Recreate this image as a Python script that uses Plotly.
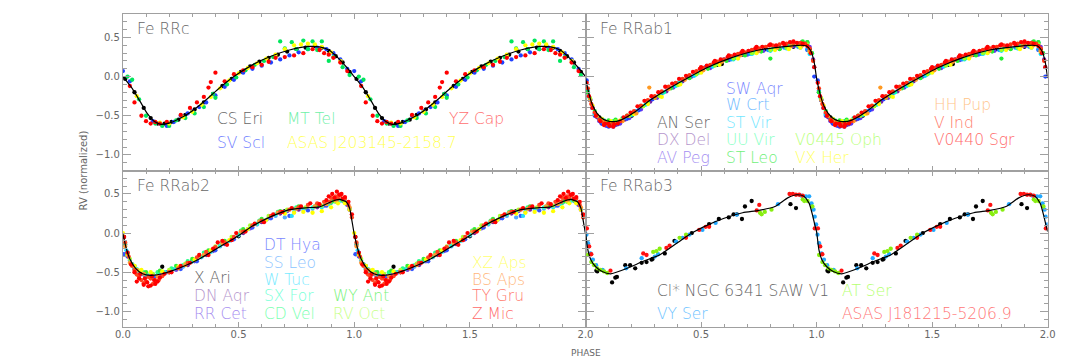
import plotly.graph_objects as go

W, H = 1090, 363
FONT = "DejaVu Sans"
AXIS_GRAY = "#a0a0a0"
TEXT_GRAY = "#666666"

# ---------------- template curves (one cycle, phase 0..1) ----------------
RRC_TPL_PH = [0.0, 0.04, 0.075, 0.105, 0.135, 0.165, 0.21, 0.25, 0.29, 0.33, 0.37,
              0.42, 0.48, 0.56, 0.64, 0.72, 0.80, 0.85, 0.89, 0.93, 0.97, 1.0]
RRC_TPL_RV = [0.0, -0.15, -0.32, -0.47, -0.57, -0.61, -0.585, -0.53, -0.46, -0.37, -0.27,
              -0.14, 0.0, 0.15, 0.26, 0.34, 0.385, 0.38, 0.34, 0.24, 0.11, 0.0]

RRAB1_TPL_PH = [0.0, 0.015, 0.03, 0.05, 0.08, 0.11, 0.15, 0.21, 0.28, 0.35, 0.44,
                0.53, 0.63, 0.75, 0.85, 0.92, 0.955, 0.975, 0.99, 1.0]
RRAB1_TPL_RV = [-0.02, -0.22, -0.36, -0.47, -0.55, -0.575, -0.56, -0.46, -0.30, -0.17, -0.02,
                0.12, 0.24, 0.34, 0.38, 0.40, 0.395, 0.33, 0.18, -0.02]

RRAB2_TPL_PH = [0.0, 0.015, 0.03, 0.055, 0.085, 0.12, 0.17, 0.25, 0.33, 0.41, 0.49,
                0.56, 0.64, 0.72, 0.80, 0.85, 0.90, 0.935, 0.965, 0.98, 0.99, 1.0]
RRAB2_TPL_RV = [-0.01, -0.20, -0.33, -0.45, -0.52, -0.54, -0.52, -0.44, -0.33, -0.19, -0.05,
                0.09, 0.21, 0.30, 0.325, 0.335, 0.40, 0.43, 0.40, 0.32, 0.16, -0.01]

RRAB3_TPL_PH = [0.0, 0.01, 0.023, 0.044, 0.072, 0.108, 0.18, 0.25, 0.32, 0.39, 0.46, 0.53,
                0.60, 0.68, 0.75, 0.82, 0.875, 0.915, 0.945, 0.968, 0.982, 0.992, 1.0]
RRAB3_TPL_RV = [0.02, -0.21, -0.34, -0.43, -0.49, -0.52, -0.45, -0.36, -0.28, -0.14, 0.0, 0.105,
                0.19, 0.26, 0.29, 0.34, 0.45, 0.49, 0.47, 0.38, 0.235, 0.11, 0.02]

# ---------------- Fe RRc stars ----------------
CS_ERI_PH = [0.01, 0.05, 0.09, 0.12, 0.15, 0.18, 0.21, 0.24, 0.27, 0.31, 0.35, 0.39, 0.43, 0.47,
             0.51, 0.55, 0.59, 0.63, 0.67, 0.71, 0.75, 0.79, 0.83, 0.86, 0.89, 0.92, 0.95, 0.98]
CS_ERI_RV = [-0.03, -0.20, -0.40, -0.53, -0.60, -0.60, -0.58, -0.55, -0.49, -0.42, -0.33, -0.22, -0.12, -0.03,
             0.06, 0.13, 0.19, 0.24, 0.28, 0.32, 0.35, 0.37, 0.39, 0.37, 0.33, 0.26, 0.18, 0.06]

SV_SCL_PH = [0.0, 0.03, 0.13, 0.16, 0.19, 0.22, 0.25, 0.28, 0.30, 0.33, 0.36, 0.40, 0.44, 0.48,
             0.52, 0.56, 0.60, 0.64, 0.68, 0.72, 0.76, 0.80, 0.84, 0.88, 0.91, 0.94, 0.97]
SV_SCL_RV = [0.07, -0.06, -0.57, -0.60, -0.63, -0.58, -0.50, -0.47, -0.44, -0.39, -0.33, -0.24, -0.13, -0.04,
             0.05, 0.10, 0.14, 0.18, 0.22, 0.27, 0.31, 0.35, 0.37, 0.35, 0.30, 0.22, 0.10]

MT_TEL_PH = [0.02, 0.04, 0.07, 0.10, 0.14, 0.17, 0.20, 0.23, 0.27, 0.31, 0.35, 0.39, 0.40, 0.45, 0.49, 0.53,
             0.57, 0.61, 0.65, 0.68, 0.70, 0.73, 0.75, 0.78, 0.80, 0.82, 0.84, 0.86, 0.89, 0.91, 0.95, 0.98]
MT_TEL_RV = [0.0, -0.04, -0.29, -0.50, -0.60, -0.63, -0.63, -0.56, -0.53, -0.47, -0.39, -0.22, -0.27, -0.10, -0.01, 0.08,
             0.15, 0.20, 0.25, 0.45, 0.36, 0.44, 0.35, 0.46, 0.35, 0.45, 0.34, 0.45, 0.20, 0.25, 0.12, 0.02]

ASAS_J2031_PH = [0.06, 0.16, 0.20, 0.26, 0.30, 0.34, 0.38, 0.42, 0.46, 0.50, 0.54,
                 0.58, 0.62, 0.66, 0.70, 0.74, 0.77, 0.80, 0.83, 0.86, 0.90, 0.94]
ASAS_J2031_RV = [-0.25, -0.59, -0.60, -0.52, -0.45, -0.36, -0.26, -0.15, -0.05, 0.04, 0.11,
                 0.17, 0.23, 0.28, 0.35, 0.40, 0.41, 0.42, 0.41, 0.38, 0.31, 0.20]

YZ_CAP_PH = [0.03, 0.05, 0.08, 0.10, 0.12, 0.14, 0.16, 0.19, 0.25, 0.29, 0.32, 0.35, 0.37, 0.38, 0.40, 0.44,
             0.48, 0.52, 0.56, 0.60, 0.63, 0.66, 0.70, 0.74, 0.78, 0.82, 0.85, 0.87, 0.89, 0.91, 0.94, 0.97]
YZ_CAP_RV = [-0.12, -0.33, -0.50, -0.57, -0.60, -0.58, -0.60, -0.58, -0.49, -0.40, -0.33, -0.26, -0.14, -0.07, 0.05, -0.06,
             0.03, 0.08, 0.12, 0.15, 0.19, 0.24, 0.25, 0.27, 0.30, 0.35, 0.34, 0.30, 0.28, 0.24, 0.18, 0.07]

# ---------------- Fe RRab1 stars ----------------
AN_SER_PH = [0.02, 0.06, 0.12, 0.20, 0.30, 0.40, 0.50, 0.57, 0.59, 0.68, 0.78, 0.90, 0.97]
AN_SER_RV = [-0.30, -0.52, -0.58, -0.50, -0.27, -0.09, 0.07, 0.15, 0.16, 0.28, 0.35, 0.38, 0.35]

DX_DEL_PH = [0.01, 0.03, 0.05, 0.07, 0.10, 0.13, 0.17, 0.22, 0.28, 0.35,
             0.42, 0.50, 0.58, 0.66, 0.74, 0.82, 0.88, 0.93, 0.96, 0.985]
DX_DEL_RV = [-0.20, -0.40, -0.52, -0.60, -0.63, -0.62, -0.55, -0.45, -0.32, -0.19,
             -0.06, 0.06, 0.17, 0.26, 0.32, 0.37, 0.40, 0.43, 0.42, 0.22]

AV_PEG_PH = [0.02, 0.04, 0.06, 0.09, 0.12, 0.15, 0.19, 0.24, 0.31, 0.38,
             0.46, 0.54, 0.62, 0.70, 0.77, 0.84, 0.90, 0.94, 0.97]
AV_PEG_RV = [-0.30, -0.47, -0.57, -0.63, -0.64, -0.60, -0.53, -0.42, -0.27, -0.14,
             0.0, 0.11, 0.21, 0.28, 0.33, 0.36, 0.39, 0.43, 0.38]

SW_AQR_PH = [0.005, 0.02, 0.04, 0.07, 0.10, 0.14, 0.18, 0.23, 0.29, 0.36,
             0.44, 0.52, 0.60, 0.68, 0.75, 0.83, 0.89, 0.93, 0.96, 0.99]
SW_AQR_RV = [-0.05, -0.30, -0.50, -0.60, -0.64, -0.61, -0.54, -0.43, -0.29, -0.15,
             -0.01, 0.12, 0.22, 0.29, 0.35, 0.39, 0.42, 0.43, 0.34, 0.0]

W_CRT_PH = [0.01, 0.03, 0.06, 0.09, 0.13, 0.17, 0.22, 0.27, 0.33, 0.40,
            0.48, 0.55, 0.63, 0.71, 0.79, 0.86, 0.92, 0.96, 0.99]
W_CRT_RV = [-0.18, -0.40, -0.55, -0.60, -0.59, -0.53, -0.44, -0.34, -0.22, -0.09,
            0.03, 0.13, 0.22, 0.29, 0.34, 0.37, 0.38, 0.35, 0.12]

ST_VIR_PH = [0.015, 0.04, 0.08, 0.11, 0.14, 0.20, 0.26, 0.32, 0.39,
             0.47, 0.55, 0.64, 0.72, 0.80, 0.87, 0.93, 0.97]
ST_VIR_RV = [-0.26, -0.48, -0.60, -0.60, -0.58, -0.49, -0.36, -0.24, -0.12,
             0.01, 0.13, 0.22, 0.29, 0.33, 0.36, 0.37, 0.29]

UU_VIR_PH = [0.02, 0.05, 0.08, 0.12, 0.16, 0.21, 0.27, 0.34, 0.41,
             0.49, 0.57, 0.65, 0.73, 0.81, 0.88, 0.93, 0.96, 0.98]
UU_VIR_RV = [-0.29, -0.50, -0.56, -0.57, -0.53, -0.46, -0.33, -0.20, -0.08,
             0.05, 0.16, 0.24, 0.31, 0.35, 0.40, 0.43, 0.44, 0.30]

ST_LEO_PH = [0.01, 0.04, 0.07, 0.10, 0.13, 0.18, 0.24, 0.30, 0.37, 0.45,
             0.53, 0.61, 0.69, 0.76, 0.80, 0.84, 0.90, 0.94, 0.96, 0.98]
ST_LEO_RV = [-0.20, -0.44, -0.54, -0.56, -0.55, -0.50, -0.38, -0.27, -0.15, -0.02,
             0.10, 0.20, 0.27, 0.32, 0.23, 0.35, 0.42, 0.45, 0.44, 0.30]

V0445_OPH_PH = [0.02, 0.05, 0.09, 0.13, 0.19, 0.25, 0.32, 0.40,
                0.48, 0.56, 0.64, 0.72, 0.80, 0.87, 0.92, 0.96]
V0445_OPH_RV = [-0.28, -0.50, -0.58, -0.57, -0.50, -0.38, -0.25, -0.11,
                0.03, 0.14, 0.23, 0.30, 0.34, 0.37, 0.40, 0.41]

VX_HER_PH = [0.03, 0.07, 0.11, 0.15, 0.21, 0.27, 0.33, 0.41,
             0.50, 0.58, 0.66, 0.74, 0.82, 0.88, 0.93, 0.97]
VX_HER_RV = [-0.37, -0.54, -0.57, -0.56, -0.48, -0.35, -0.26, -0.10,
             0.05, 0.15, 0.23, 0.30, 0.34, 0.35, 0.37, 0.32]

HH_PUP_PH = [0.02, 0.05, 0.08, 0.12, 0.16, 0.22, 0.276, 0.30, 0.36,
             0.43, 0.51, 0.59, 0.67, 0.75, 0.83, 0.89, 0.94, 0.97]
HH_PUP_RV = [-0.30, -0.50, -0.57, -0.60, -0.57, -0.47, -0.14, -0.27, -0.16,
             -0.04, 0.08, 0.19, 0.27, 0.33, 0.37, 0.39, 0.40, 0.33]

V_IND_PH = [0.01, 0.025, 0.04, 0.06, 0.08, 0.10, 0.12, 0.15, 0.18, 0.21, 0.24, 0.27, 0.30,
            0.33, 0.36, 0.39, 0.42, 0.45, 0.48, 0.51, 0.54, 0.57, 0.60, 0.63, 0.66, 0.69,
            0.72, 0.75, 0.78, 0.81, 0.84, 0.87, 0.90, 0.93, 0.95, 0.97, 0.985]
V_IND_RV = [-0.15, -0.35, -0.46, -0.55, -0.60, -0.62, -0.60, -0.57, -0.50, -0.44, -0.37, -0.30, -0.25,
            -0.19, -0.13, -0.08, -0.03, 0.02, 0.07, 0.11, 0.15, 0.19, 0.22, 0.26, 0.29, 0.31,
            0.34, 0.36, 0.38, 0.40, 0.41, 0.42, 0.43, 0.43, 0.42, 0.36, 0.20]

V0440_SGR_PH = [0.005, 0.015, 0.03, 0.045, 0.065, 0.085, 0.105, 0.125, 0.14, 0.165, 0.195, 0.225, 0.255,
                0.285, 0.315, 0.345, 0.375, 0.405, 0.435, 0.465, 0.495, 0.525, 0.555, 0.585, 0.615, 0.645,
                0.675, 0.705, 0.735, 0.765, 0.795, 0.825, 0.855, 0.885, 0.915, 0.94, 0.96, 0.975, 0.99,
                0.08, 0.10, 0.12, 0.50, 0.56, 0.62, 0.68, 0.74, 0.80, 0.86, 0.90]
V0440_SGR_RV = [-0.08, -0.25, -0.40, -0.50, -0.57, -0.60, -0.63, -0.61, -0.60, -0.52, -0.46, -0.38, -0.31,
                -0.25, -0.20, -0.13, -0.09, -0.03, 0.01, 0.06, 0.10, 0.14, 0.18, 0.22, 0.25, 0.28,
                0.31, 0.33, 0.36, 0.38, 0.40, 0.40, 0.43, 0.44, 0.43, 0.42, 0.39, 0.30, 0.12,
                -0.62, -0.60, -0.64, 0.12, 0.20, 0.27, 0.33, 0.38, 0.41, 0.41, 0.45]

# ---------------- Fe RRab2 stars ----------------
X_ARI_PH = [0.005, 0.17, 0.30, 0.50, 0.70, 0.90]
X_ARI_RV = [-0.05, -0.43, -0.36, -0.04, 0.28, 0.39]

DN_AQR_PH = [0.01, 0.04, 0.08, 0.13, 0.20, 0.28, 0.36, 0.44, 0.52, 0.60, 0.68, 0.76, 0.84, 0.91, 0.95, 0.98]
DN_AQR_RV = [-0.15, -0.40, -0.52, -0.55, -0.50, -0.41, -0.28, -0.14, 0.0, 0.14, 0.25, 0.30, 0.33, 0.41, 0.42, 0.30]

RR_CET_PH = [0.02, 0.06, 0.10, 0.16, 0.23, 0.31, 0.39, 0.47, 0.55, 0.63, 0.71, 0.79, 0.87, 0.93, 0.97]
RR_CET_RV = [-0.25, -0.48, -0.55, -0.54, -0.47, -0.36, -0.23, -0.09, 0.06, 0.19, 0.28, 0.32, 0.35, 0.42, 0.37]

DT_HYA_PH = [0.005, 0.02, 0.05, 0.09, 0.14, 0.19, 0.25, 0.32, 0.40, 0.48, 0.56, 0.64, 0.72, 0.80, 0.88, 0.94, 0.97]
DT_HYA_RV = [-0.27, -0.30, -0.46, -0.53, -0.55, -0.50, -0.46, -0.36, -0.22, -0.08, 0.07, 0.19, 0.22, 0.29, 0.35, 0.42, 0.36]

SS_LEO_PH = [0.03, 0.07, 0.11, 0.18, 0.26, 0.34, 0.42, 0.50, 0.58, 0.66, 0.70, 0.74, 0.82, 0.90, 0.95]
SS_LEO_RV = [-0.35, -0.50, -0.54, -0.50, -0.43, -0.31, -0.17, -0.03, 0.11, 0.22, 0.20, 0.27, 0.31, 0.39, 0.41]

W_TUC_PH = [0.015, 0.05, 0.10, 0.15, 0.22, 0.30, 0.38, 0.46, 0.54, 0.62, 0.70, 0.73, 0.78, 0.86, 0.92, 0.96]
W_TUC_RV = [-0.22, -0.45, -0.54, -0.53, -0.46, -0.36, -0.24, -0.10, 0.05, 0.17, 0.27, 0.22, 0.30, 0.33, 0.40, 0.40]

SX_FOR_PH = [0.02, 0.06, 0.12, 0.18, 0.26, 0.34, 0.42, 0.50, 0.58, 0.66, 0.74, 0.82, 0.89, 0.94, 0.97]
SX_FOR_RV = [-0.26, -0.46, -0.52, -0.50, -0.41, -0.30, -0.16, -0.02, 0.12, 0.24, 0.31, 0.33, 0.37, 0.42, 0.38]

CD_VEL_PH = [0.01, 0.04, 0.09, 0.15, 0.21, 0.28, 0.35, 0.43, 0.51, 0.59, 0.67, 0.75, 0.83, 0.90, 0.95, 0.98]
CD_VEL_RV = [-0.14, -0.40, -0.50, -0.50, -0.45, -0.36, -0.25, -0.12, 0.03, 0.16, 0.27, 0.33, 0.34, 0.39, 0.42, 0.31]

WY_ANT_PH = [0.02, 0.05, 0.10, 0.16, 0.23, 0.30, 0.37, 0.44, 0.52, 0.60, 0.68, 0.76, 0.84, 0.91, 0.95]
WY_ANT_RV = [-0.27, -0.42, -0.50, -0.48, -0.42, -0.33, -0.22, -0.10, 0.05, 0.18, 0.28, 0.34, 0.36, 0.41, 0.42]

RV_OCT_PH = [0.03, 0.07, 0.13, 0.20, 0.27, 0.33, 0.40, 0.47, 0.55, 0.63, 0.71, 0.79, 0.86, 0.92, 0.96]
RV_OCT_RV = [-0.33, -0.48, -0.52, -0.47, -0.39, -0.29, -0.17, -0.05, 0.10, 0.22, 0.30, 0.33, 0.35, 0.40, 0.39]

XZ_APS_PH = [0.0, 0.02, 0.05, 0.08, 0.12, 0.17, 0.24, 0.31, 0.38, 0.46, 0.54,
             0.62, 0.70, 0.74, 0.78, 0.82, 0.86, 0.90, 0.93, 0.96, 0.98]
XZ_APS_RV = [0.0, -0.28, -0.42, -0.47, -0.50, -0.49, -0.43, -0.34, -0.22, -0.09, 0.05,
             0.17, 0.25, 0.26, 0.27, 0.26, 0.28, 0.33, 0.38, 0.38, 0.30]

BS_APS_PH = [0.01, 0.03, 0.06, 0.09, 0.12, 0.15, 0.20, 0.27, 0.35, 0.43,
             0.51, 0.59, 0.67, 0.75, 0.83, 0.88, 0.92, 0.95, 0.98]
BS_APS_RV = [-0.17, -0.38, -0.47, -0.52, -0.56, -0.55, -0.50, -0.41, -0.28, -0.13,
             0.02, 0.15, 0.26, 0.31, 0.34, 0.37, 0.42, 0.43, 0.33]

TY_GRU_PH = [0.01, 0.025, 0.04, 0.06, 0.08, 0.10, 0.12, 0.14, 0.17, 0.20, 0.24, 0.28, 0.32, 0.36, 0.40, 0.44, 0.48,
             0.52, 0.56, 0.60, 0.64, 0.68, 0.72, 0.76, 0.80, 0.84, 0.87, 0.90, 0.92, 0.94, 0.96, 0.975, 0.99,
             0.05, 0.07, 0.09, 0.11, 0.13, 0.155, 0.895, 0.93]
TY_GRU_RV = [-0.12, -0.30, -0.42, -0.53, -0.60, -0.62, -0.58, -0.60, -0.55, -0.50, -0.45, -0.38, -0.31, -0.24, -0.18, -0.12, -0.05,
             0.02, 0.10, 0.16, 0.22, 0.27, 0.30, 0.33, 0.36, 0.38, 0.40, 0.45, 0.47, 0.48, 0.44, 0.36, 0.20,
             -0.47, -0.55, -0.64, -0.56, -0.65, -0.60, 0.40, 0.44]

Z_MIC_PH = [0.005, 0.02, 0.035, 0.05, 0.07, 0.09, 0.105, 0.12, 0.135, 0.15, 0.18, 0.21, 0.25, 0.29, 0.33, 0.37, 0.41, 0.45,
            0.49, 0.53, 0.57, 0.61, 0.65, 0.69, 0.73, 0.77, 0.81, 0.85, 0.88, 0.905, 0.925, 0.945, 0.96, 0.975, 0.99,
            0.06, 0.075, 0.095, 0.11, 0.125, 0.14, 0.16, 0.39, 0.43, 0.47, 0.89, 0.915, 0.935, 0.95]
Z_MIC_RV = [-0.05, -0.25, -0.40, -0.50, -0.58, -0.66, -0.63, -0.67, -0.60, -0.62, -0.52, -0.50, -0.42, -0.38, -0.28, -0.28, -0.12, -0.15,
            0.0, 0.02, 0.12, 0.14, 0.24, 0.27, 0.32, 0.34, 0.38, 0.37, 0.42, 0.50, 0.53, 0.50, 0.46, 0.40, 0.24,
            -0.62, -0.52, -0.58, -0.68, -0.55, -0.65, -0.57, -0.20, -0.10, -0.09, 0.47, 0.45, 0.49, 0.44]

# ---------------- Fe RRab3 stars ----------------
SAW_V1_PH = [0.047, 0.051, 0.115, 0.129, 0.136, 0.172, 0.193, 0.215, 0.243, 0.264, 0.286, 0.29, 0.343,
             0.385, 0.46, 0.535, 0.577, 0.62, 0.641, 0.655, 0.677, 0.69, 0.719, 0.887, 0.911]
SAW_V1_RV = [-0.48, -0.49, -0.63, -0.57, -0.56, -0.41, -0.41, -0.45, -0.38, -0.37, -0.34, -0.33, -0.26,
             -0.10, 0.0, 0.115, 0.18, 0.20, 0.24, 0.24, 0.18, 0.34, 0.41, 0.37, 0.32]

VY_SER_PH = [0.004, 0.011, 0.021, 0.032, 0.046, 0.074, 0.176, 0.243, 0.30, 0.314, 0.392, 0.42,
             0.449, 0.506, 0.563, 0.655, 0.833, 0.933, 0.954, 0.968, 0.978, 0.987, 0.992, 0.998]
VY_SER_RV = [-0.02, -0.13, -0.26, -0.34, -0.41, -0.47, -0.45, -0.32, -0.30, -0.27, -0.11, -0.06,
             -0.02, 0.04, 0.13, 0.235, 0.37, 0.48, 0.47, 0.47, 0.38, 0.30, 0.21, 0.11]

AT_SER_PH = [0.011, 0.025, 0.037, 0.051, 0.065, 0.08, 0.094, 0.293, 0.307, 0.321,
             0.407, 0.435, 0.755, 0.762, 0.776, 0.805, 0.94, 0.947, 0.961, 0.982]
AT_SER_RV = [-0.28, -0.37, -0.41, -0.45, -0.47, -0.49, -0.51, -0.24, -0.23, -0.20,
             -0.06, -0.02, 0.26, 0.24, 0.27, 0.30, 0.43, 0.41, 0.41, 0.34]

ASAS_J1812_PH = [0.006, 0.016, 0.025, 0.108, 0.25, 0.264, 0.35, 0.364, 0.435, 0.492,
                 0.52, 0.535, 0.741, 0.752, 0.883, 0.897, 0.911, 0.925, 0.94, 0.992]
ASAS_J1812_RV = [0.06, -0.17, -0.27, -0.48, -0.26, -0.28, -0.19, -0.16, -0.06, 0.04,
                 0.08, 0.08, 0.29, 0.36, 0.50, 0.50, 0.49, 0.49, 0.48, 0.06]

# ---------------- panel contents ----------------
RRC_STARS = [("CS Eri", CS_ERI_PH, CS_ERI_RV), ("SV Scl", SV_SCL_PH, SV_SCL_RV),
             ("MT Tel", MT_TEL_PH, MT_TEL_RV), ("ASAS J203145-2158.7", ASAS_J2031_PH, ASAS_J2031_RV),
             ("YZ Cap", YZ_CAP_PH, YZ_CAP_RV)]
RRAB1_STARS = [("AN Ser", AN_SER_PH, AN_SER_RV), ("DX Del", DX_DEL_PH, DX_DEL_RV),
               ("AV Peg", AV_PEG_PH, AV_PEG_RV), ("SW Aqr", SW_AQR_PH, SW_AQR_RV),
               ("W Crt", W_CRT_PH, W_CRT_RV), ("ST Vir", ST_VIR_PH, ST_VIR_RV),
               ("UU Vir", UU_VIR_PH, UU_VIR_RV), ("ST Leo", ST_LEO_PH, ST_LEO_RV),
               ("V0445 Oph", V0445_OPH_PH, V0445_OPH_RV), ("VX Her", VX_HER_PH, VX_HER_RV),
               ("HH Pup", HH_PUP_PH, HH_PUP_RV), ("V Ind", V_IND_PH, V_IND_RV),
               ("V0440 Sgr", V0440_SGR_PH, V0440_SGR_RV)]
RRAB2_STARS = [("X Ari", X_ARI_PH, X_ARI_RV), ("DN Aqr", DN_AQR_PH, DN_AQR_RV),
               ("RR Cet", RR_CET_PH, RR_CET_RV), ("DT Hya", DT_HYA_PH, DT_HYA_RV),
               ("SS Leo", SS_LEO_PH, SS_LEO_RV), ("W Tuc", W_TUC_PH, W_TUC_RV),
               ("SX For", SX_FOR_PH, SX_FOR_RV), ("CD Vel", CD_VEL_PH, CD_VEL_RV),
               ("WY Ant", WY_ANT_PH, WY_ANT_RV), ("RV Oct", RV_OCT_PH, RV_OCT_RV),
               ("XZ Aps", XZ_APS_PH, XZ_APS_RV), ("BS Aps", BS_APS_PH, BS_APS_RV),
               ("TY Gru", TY_GRU_PH, TY_GRU_RV), ("Z Mic", Z_MIC_PH, Z_MIC_RV)]
RRAB3_STARS = [("Cl* NGC 6341 SAW V1", SAW_V1_PH, SAW_V1_RV), ("VY Ser", VY_SER_PH, VY_SER_RV),
               ("AT Ser", AT_SER_PH, AT_SER_RV), ("ASAS J181215-5206.9", ASAS_J1812_PH, ASAS_J1812_RV)]

# style: dot colour, label colour, label position (phase, rv)
STAR_STYLE = {
    "CS Eri": ("#000000", "#666666", 0.40, -0.54),
    "SV Scl": ("#2040ff", "#7080ff", 0.40, -0.85),
    "MT Tel": ("#00e65c", "#70f0a8", 0.70, -0.54),
    "ASAS J203145-2158.7": ("#ffff00", "#ffff55", 0.70, -0.85),
    "YZ Cap": ("#ff0000", "#ff7070", 1.40, -0.54),

    "AN Ser": ("#000000", "#666666", 0.30, -0.593),
    "DX Del": ("#7a1fa2", "#b494cc", 0.30, -0.815),
    "AV Peg": ("#6633ee", "#a48ef2", 0.30, -1.041),
    "SW Aqr": ("#2244ff", "#7a88ff", 0.60, -0.155),
    "W Crt": ("#1199ff", "#70baff", 0.60, -0.367),
    "ST Vir": ("#00e5ff", "#70e6ff", 0.60, -0.593),
    "UU Vir": ("#00ffaa", "#88ffc4", 0.60, -0.815),
    "ST Leo": ("#22ee33", "#70f07a", 0.60, -1.041),
    "V0445 Oph": ("#99ff22", "#b8ff78", 0.90, -0.815),
    "VX Her": ("#ffff00", "#ffff66", 0.90, -1.041),
    "HH Pup": ("#ff9922", "#ffc488", 1.50, -0.367),
    "V Ind": ("#ff3311", "#ff7a6a", 1.50, -0.593),
    "V0440 Sgr": ("#ff0000", "#ff6b6b", 1.50, -0.815),

    "X Ari": ("#000000", "#666666", 0.30, -0.574),
    "DN Aqr": ("#7a1fa2", "#b494cc", 0.30, -0.808),
    "RR Cet": ("#7744dd", "#a68cf0", 0.30, -1.035),
    "DT Hya": ("#3355ff", "#7a88ff", 0.60, -0.156),
    "SS Leo": ("#55aaff", "#8cc4ff", 0.60, -0.382),
    "W Tuc": ("#22ddff", "#7aeaff", 0.60, -0.596),
    "SX For": ("#22ffcc", "#7affd8", 0.60, -0.808),
    "CD Vel": ("#22ff88", "#7affb0", 0.60, -1.035),
    "WY Ant": ("#33ee33", "#7af27a", 0.90, -0.808),
    "RV Oct": ("#aaff33", "#c8ff88", 0.90, -1.035),
    "XZ Aps": ("#ffff00", "#ffff70", 1.50, -0.382),
    "BS Aps": ("#ff9933", "#ffb67a", 1.50, -0.596),
    "TY Gru": ("#ff4422", "#ff7a6e", 1.50, -0.808),
    "Z Mic": ("#ff0000", "#ff6b6b", 1.50, -1.035),

    "Cl* NGC 6341 SAW V1": ("#000000", "#666666", 0.30, -0.744),
    "VY Ser": ("#22a8ff", "#70c4ff", 0.30, -1.035),
    "AT Ser": ("#88ee11", "#b6ff70", 1.10, -0.744),
    "ASAS J181215-5206.9": ("#ff1111", "#ff7777", 1.10, -1.035),
}

PANELS = [
    ("x", "y", "Fe RRc", RRC_TPL_PH, RRC_TPL_RV, RRC_STARS),
    ("x2", "y2", "Fe RRab1", RRAB1_TPL_PH, RRAB1_TPL_RV, RRAB1_STARS),
    ("x3", "y3", "Fe RRab2", RRAB2_TPL_PH, RRAB2_TPL_RV, RRAB2_STARS),
    ("x4", "y4", "Fe RRab3", RRAB3_TPL_PH, RRAB3_TPL_RV, RRAB3_STARS),
]


def two_cycles(ph, rv):
    # same observations shown at phase p and p+1
    return list(ph) + [p + 1 for p in ph], list(rv) + list(rv)


def template_two_cycles(ph, rv):
    return list(ph[:-1]) + [p + 1 for p in ph], list(rv[:-1]) + list(rv)


fig = go.Figure()
annotations = []

for xa, ya, title, tph, trv, stars in PANELS:
    for name, ph, rv in stars:
        dot, lab, lx, ly = STAR_STYLE[name]
        px, pv = two_cycles(ph, rv)
        fig.add_trace(go.Scatter(x=px, y=pv, xaxis=xa, yaxis=ya, mode="markers",
                                 marker=dict(color=dot, size=4.3, line=dict(width=0)),
                                 name=name, showlegend=False))
        annotations.append(dict(x=lx, y=ly, xref=xa, yref=ya, text=name, showarrow=False,
                                xanchor="left", yanchor="middle",
                                font=dict(family=FONT, size=15.5, color=lab, weight=300)))
    cx, cv = template_two_cycles(tph, trv)
    fig.add_trace(go.Scatter(x=cx, y=cv, xaxis=xa, yaxis=ya, mode="lines",
                             line=dict(color="black", width=1.2, shape="spline", smoothing=0.6),
                             showlegend=False))
    annotations.append(dict(x=0.052, y=0.605, xref=xa, yref=ya, text=title, showarrow=False,
                            xanchor="left", yanchor="middle",
                            font=dict(family=FONT, size=15.5, color=TEXT_GRAY, weight=300)))

annotations.append(dict(x=68 / W, y=1 - 162.5 / H, xref="paper", yref="paper",
                        xanchor="center", yanchor="middle",
                        text="RV (normalized)", textangle=-90, showarrow=False,
                        font=dict(family=FONT, size=10, color=TEXT_GRAY)))
annotations.append(dict(x=578 / W, y=1 - 345 / H, xref="paper", yref="paper",
                        xanchor="center", yanchor="middle",
                        text="PHASE", showarrow=False,
                        font=dict(family=FONT, size=9, color=TEXT_GRAY)))

X0, XM, X1 = 108.5 / W, 578 / W, 1047 / W
Y0, YM, Y1 = 1 - 319 / H, 1 - 162.5 / H, 1 - 6 / H

X_MINOR = [i / 10 for i in range(21)]
Y_MINOR = [(-12 + i) / 10 for i in range(21)]


def x_axis(domain, anchor, labels, first_label=True):
    text = ["0.0", "0.5", "1.0", "1.5", "2.0"]
    if not first_label:
        text[0] = ""
    return dict(domain=domain, anchor=anchor, range=[0, 2], tickmode="array",
                tickvals=[0, 0.5, 1, 1.5, 2], ticktext=text, showticklabels=labels,
                ticks="inside", ticklen=5, tickwidth=1, tickcolor=AXIS_GRAY,
                minor=dict(tickmode="array", tickvals=X_MINOR, ticks="inside", ticklen=3,
                           tickcolor=AXIS_GRAY, showgrid=False),
                showline=True, linecolor=AXIS_GRAY, linewidth=1, mirror="ticks",
                showgrid=False, zeroline=False, ticklabelstandoff=-2,
                tickfont=dict(family=FONT, size=10, color=TEXT_GRAY))


def y_axis(domain, anchor, labels):
    return dict(domain=domain, anchor=anchor, range=[-1.2, 0.8], tickmode="array",
                tickvals=[-1.0, -0.5, 0.0, 0.5], ticktext=["\u22121.0", "\u22120.5", "0.0", "0.5"],
                showticklabels=labels, ticks="inside", ticklen=8, tickwidth=1, tickcolor=AXIS_GRAY,
                minor=dict(tickmode="array", tickvals=Y_MINOR, ticks="inside", ticklen=4,
                           tickcolor=AXIS_GRAY, showgrid=False),
                showline=True, linecolor=AXIS_GRAY, linewidth=1, mirror="ticks",
                showgrid=False, zeroline=False,
                tickfont=dict(family=FONT, size=10, color=TEXT_GRAY))


fig.update_layout(
    width=W, height=H,
    margin=dict(l=0, r=0, t=0, b=0),
    paper_bgcolor="white", plot_bgcolor="white",
    showlegend=False,
    xaxis=x_axis([X0, XM], "y", False),
    xaxis2=x_axis([XM, X1], "y2", False),
    xaxis3=x_axis([X0, XM], "y3", True),
    xaxis4=x_axis([XM, X1], "y4", True, first_label=False),
    yaxis=y_axis([YM, Y1], "x", True),
    yaxis2=y_axis([YM, Y1], "x2", False),
    yaxis3=y_axis([Y0, YM], "x3", True),
    yaxis4=y_axis([Y0, YM], "x4", False),
    annotations=annotations,
)

fig.write_html("out.html")
